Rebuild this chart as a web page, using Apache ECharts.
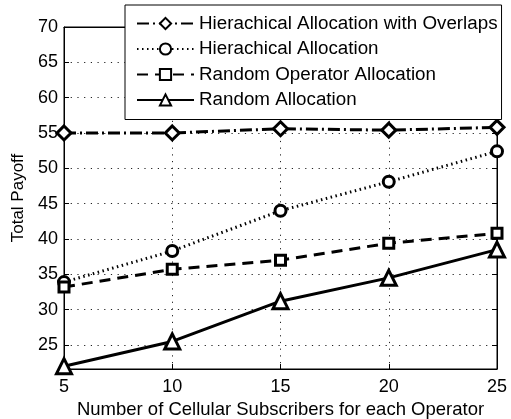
<!DOCTYPE html>
<html>
<head>
<meta charset="utf-8">
<script src="https://cdn.jsdelivr.net/npm/echarts@6/dist/echarts.min.js"></script>
<style>
  html, body { margin: 0; padding: 0; background: #fff; }
  #chart { width: 511px; height: 419px; }
</style>
</head>
<body>
<div id="chart"></div>
<script>
const subscribers = [5, 10, 15, 20, 25]
const hierOverlaps = [55.0, 55.0, 55.6, 55.4, 55.8]
const hierAlloc = [33.9, 38.3, 44.0, 48.1, 52.4]
const randomOperator = [33.2, 35.7, 37.0, 39.4, 40.8]
const randomAlloc = [22.0, 25.5, 31.2, 34.5, 38.5]
const yTicks = [25, 30, 35, 40, 45, 50, 55, 60, 65, 70]

const font = 'Liberation Sans, Arial, sans-serif'
const gridDots = { color: '#222', type: [1.2, 5.5], width: 1 }

const makeSeries = (name, data, symbol, size, dash) => ({
  name: name,
  type: 'line',
  data: subscribers.map((x, i) => [x, data[i]]),
  symbol: symbol,
  symbolSize: size,
  showAllSymbol: true,
  itemStyle: { color: '#fff', borderColor: '#000', borderWidth: 3 },
  lineStyle: { color: '#000', width: 3, type: dash },
  emphasis: { disabled: true }
})

const chart = echarts.init(document.getElementById('chart'))
chart.setOption({
  animation: false,
  grid: {
    left: 64, right: 14, top: 27, bottom: 50,
    outerBoundsMode: 'none', containLabel: false,
    show: true, borderColor: '#000', borderWidth: 1
  },
  legend: {
    orient: 'vertical',
    left: 125,
    top: 5,
    padding: [9, 4, 10, 11],
    itemWidth: 57,
    itemHeight: 14,
    itemGap: 6.5,
    backgroundColor: '#fff',
    borderColor: '#000',
    borderWidth: 1,
    textStyle: { fontFamily: font, fontSize: 18.8, color: '#000' },
    data: ['Hierachical Allocation with Overlaps', 'Hierachical Allocation', 'Random Operator Allocation', 'Random Allocation']
  },
  xAxis: [{
    type: 'value',
    min: 5,
    max: 25,
    interval: 5,
    name: 'Number of Cellular Subscribers for each Operator',
    nameLocation: 'middle',
    nameGap: 31,
    nameTextStyle: { fontFamily: font, fontSize: 18.5, color: '#000' },
    axisLine: { lineStyle: { color: '#000' } },
    axisTick: { inside: true, length: 5, lineStyle: { color: '#000' } },
    axisLabel: { fontFamily: font, fontSize: 18, color: '#000', margin: 9 },
    splitLine: { show: true, lineStyle: gridDots }
  }, {
    type: 'value',
    position: 'top',
    min: 5,
    max: 25,
    interval: 5,
    axisLine: { show: true, lineStyle: { color: '#000' } },
    axisTick: { inside: true, length: 5, lineStyle: { color: '#000' } },
    axisLabel: { show: false },
    splitLine: { show: false }
  }],
  yAxis: [{
    type: 'value',
    min: 21.6,
    max: 70,
    name: 'Total Payoff',
    nameLocation: 'middle',
    nameGap: 35,
    nameTextStyle: { fontFamily: font, fontSize: 17, color: '#000' },
    axisLine: { show: true, lineStyle: { color: '#000' } },
    axisTick: { inside: true, length: 5, customValues: yTicks, lineStyle: { color: '#000' } },
    axisLabel: { fontFamily: font, fontSize: 18, color: '#000', margin: 6, customValues: yTicks },
    splitLine: { show: true, lineStyle: gridDots }
  }, {
    type: 'value',
    position: 'right',
    min: 21.6,
    max: 70,
    axisLine: { show: true, lineStyle: { color: '#000' } },
    axisTick: { inside: true, length: 5, customValues: yTicks, lineStyle: { color: '#000' } },
    axisLabel: { show: false, customValues: yTicks },
    splitLine: { show: false }
  }],
  series: [
    makeSeries('Hierachical Allocation with Overlaps', hierOverlaps, 'diamond', 14, [12, 4, 2, 4]),
    makeSeries('Hierachical Allocation', hierAlloc, 'circle', 11, [1.5, 3.5]),
    makeSeries('Random Operator Allocation', randomOperator, 'rect', 10, [11, 7]),
    makeSeries('Random Allocation', randomAlloc, 'triangle', 15, 'solid')
  ]
})
</script>
</body>
</html>
